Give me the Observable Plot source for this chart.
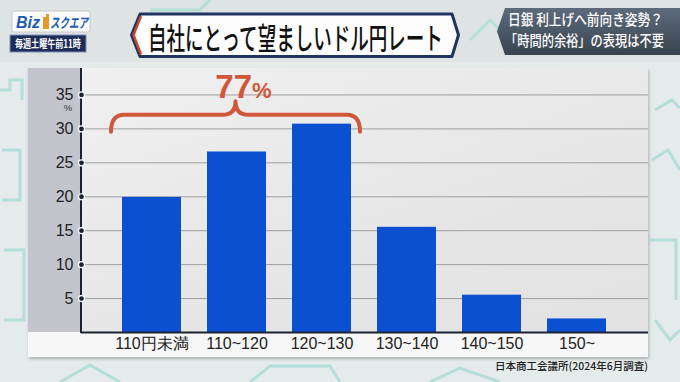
<!DOCTYPE html>
<html><head><meta charset="utf-8">
<script src="https://cdn.jsdelivr.net/npm/d3@7"></script>
<script src="https://cdn.jsdelivr.net/npm/@observablehq/plot@0.6"></script>
<style>
html,body{margin:0;padding:0;}
body{width:680px;height:382px;overflow:hidden;position:relative;background:#e2e8e8;font-family:"Liberation Sans",Arial,sans-serif;}
.abs{position:absolute;}
#panel{left:28px;top:68px;width:620px;height:289px;background:#f7f7f7;box-shadow:1px 2px 3px rgba(0,0,0,0.25);}
#graycol{left:28px;top:68px;width:53px;height:264px;background:#c3c4cc;}
#plotbg{left:81px;top:68px;width:567px;height:264px;background:linear-gradient(160deg,#f0f0f0 0%,#e6e6e6 60%,#e2e2e2 100%);}
#chart{left:28px;top:68px;}
#source{right:32px;top:358px;font-family:"Noto Sans CJK JP",sans-serif;font-weight:500;font-size:10.5px;color:#222;white-space:nowrap;}
</style></head>
<body>
<svg class="abs" style="left:0;top:0" width="680" height="382" id="bg">
  <rect width="680" height="382" fill="#e5ebeb"/>
  <rect width="680" height="62" fill="#dee3e3"/>
  <g fill="none" stroke="#a9dcd4" stroke-width="3" opacity="0.8">
    <path d="M0,90 L10,90 L10,80 L22,80 L22,100"/>
    <path d="M2,150 L20,150 L20,200 L2,200"/>
    <path d="M4,250 L24,250 L24,320 L4,320"/>
    <path d="M655,110 L672,100 L680,108"/>
    <path d="M652,160 L668,150 L680,170"/>
    <path d="M650,240 L676,240 L676,300"/>
    <path d="M655,320 L670,340 L680,330"/>
    <path d="M60,382 L90,365 L120,382"/>
    <path d="M250,382 L270,366 L330,366 L340,382"/>
    <path d="M430,382 L460,368 L500,382"/>
    <path d="M150,10 L200,10 L210,0"/>
    <path d="M470,40 L490,20 L500,30"/>
  </g>
</svg>
<svg class="abs" style="left:0;top:0" width="680" height="62" id="header">
  <defs>
    <linearGradient id="rg" x1="0" y1="0" x2="0" y2="1">
      <stop offset="0" stop-color="#5e6b7b"/>
      <stop offset="1" stop-color="#38444f"/>
    </linearGradient>
  </defs>
  <rect x="12" y="11" width="78" height="21" rx="2" fill="#fbfbfb" stroke="#c9c9c9"/>
  <text x="16" y="28" font-family="Liberation Sans" font-weight="bold" font-style="italic" font-size="16" fill="#1f5bb5">Biz</text>
  <rect x="43" y="17" width="3" height="12" fill="#e39a2d"/>
  <rect x="46" y="14" width="3" height="15" fill="#e39a2d"/>
  <text class="fit" data-x="50" data-y="28" data-w="38" font-family="Noto Sans CJK JP" font-weight="bold" font-style="italic" font-size="14" fill="#1f5bb5">スクエア</text>
  <rect x="10" y="35" width="76" height="17" fill="#1e2c58" stroke="#8090b8" stroke-width="1"/>
  <text class="fit" data-x="15" data-y="47.5" data-w="66" font-family="Noto Sans CJK JP" font-weight="bold" font-size="11" fill="#fff">毎週土曜午前11時</text>

  <polygon points="131.5,35 140,14 452,14 458.5,35 452,56.5 140,56.5" fill="#fdfdfd" stroke="#1f3560" stroke-width="3" stroke-linejoin="round"/>
  <polyline points="141,16 133.5,35 141,54.5" fill="none" stroke="#c9472b" stroke-width="2.5"/>
  <text class="fit" data-x="148" data-y="48.5" data-w="295" font-family="Noto Sans CJK JP" font-weight="500" font-size="30" fill="#111">自社にとって望ましいドル円レート</text>

  <polygon points="497,31.5 505,8 680,8 680,55 505,55" fill="url(#rg)"/>
  <text class="fit" data-x="508" data-y="25" data-w="155" font-family="Noto Sans CJK JP" font-weight="500" font-size="14.5" fill="#fff">日銀 利上げへ前向き姿勢？</text>
  <text class="fit" data-x="505" data-y="45.5" data-w="159" font-family="Noto Sans CJK JP" font-weight="500" font-size="14.5" fill="#fff">「時間的余裕」の表現は不要</text>
</svg>
<div id="panel" class="abs"></div>
<div id="graycol" class="abs"></div>
<div id="plotbg" class="abs"></div>
<div id="chart" class="abs"></div>
<div id="source" class="abs">日本商工会議所(2024年6月調査)</div>
<script>
// Data (share of companies, %)
const categories = ["110円未満", "110~120", "120~130", "130~140", "140~150", "150~"];
const shares = [19.9, 26.6, 30.7, 15.5, 5.5, 2.0];
const yTicks = [5, 10, 15, 20, 25, 30, 35];
const bracedCategories = ["110円未満", "110~120", "120~130"];
const yUnit = "%";

// condense header texts to their measured widths
document.querySelectorAll("text.fit").forEach(t => {
  const w = +t.getAttribute("data-w");
  const natural = t.getComputedTextLength();
  const s = natural > 0 ? w / natural : 1;
  t.setAttribute("transform", `translate(${t.getAttribute("data-x")},${t.getAttribute("data-y")}) scale(${s},1)`);
});

const data = categories.map((c, i) => ({category: c, share: shares[i]}));
const bracedTotal = Math.round(d3.sum(data.filter(d => bracedCategories.includes(d.category)), d => d.share));

const braceColor = "#d0573a";
const ns = "http://www.w3.org/2000/svg";

function annotations(index, scales, values, dims) {
  const g = document.createElementNS(ns, "g");
  const x = scales.x, y = scales.y;
  const bw = x.bandwidth ? x.bandwidth() : 60;
  // left axis line
  const ax = document.createElementNS(ns, "line");
  ax.setAttribute("x1", dims.marginLeft); ax.setAttribute("x2", dims.marginLeft);
  ax.setAttribute("y1", 0); ax.setAttribute("y2", dims.height - dims.marginBottom + 1);
  ax.setAttribute("stroke", "#1b2233"); ax.setAttribute("stroke-width", 2);
  g.appendChild(ax);
  // unit label under top tick
  const top = d3.max(yTicks);
  const u = document.createElementNS(ns, "text");
  u.setAttribute("x", dims.marginLeft - 13); u.setAttribute("y", y(top) + 17);
  u.setAttribute("text-anchor", "middle"); u.setAttribute("font-size", 9.5);
  u.setAttribute("fill", "#333"); u.textContent = yUnit;
  g.appendChild(u);
  // brace
  const x0 = x(bracedCategories[0]) - 11;
  const x1 = x(bracedCategories[bracedCategories.length - 1]) + bw + 9;
  const xm = (x0 + x1) / 2;
  const yH = y(32.0), yE = y(29.5), yC = y(34.0);
  const r = 13;
  const p = document.createElementNS(ns, "path");
  p.setAttribute("d",
    `M${x0},${yE} Q${x0},${yH} ${x0 + r},${yH} L${xm - r},${yH} Q${xm},${yH} ${xm},${yC} ` +
    `Q${xm},${yH} ${xm + r},${yH} L${x1 - r},${yH} Q${x1},${yH} ${x1},${yE}`);
  p.setAttribute("fill", "none"); p.setAttribute("stroke", braceColor);
  p.setAttribute("stroke-width", 4); p.setAttribute("stroke-linecap", "round"); p.setAttribute("stroke-linejoin", "round");
  g.appendChild(p);
  // total label
  const t = document.createElementNS(ns, "text");
  t.setAttribute("x", xm + 8); t.setAttribute("y", yC - 3);
  t.setAttribute("text-anchor", "middle"); t.setAttribute("fill", braceColor);
  t.setAttribute("font-family", "Liberation Sans, Arial, sans-serif"); t.setAttribute("font-weight", "bold");
  const t1 = document.createElementNS(ns, "tspan"); t1.setAttribute("font-size", 33); t1.textContent = String(bracedTotal);
  const t2 = document.createElementNS(ns, "tspan"); t2.setAttribute("font-size", 22); t2.textContent = "%";
  t.appendChild(t1); t.appendChild(t2);
  g.appendChild(t);
  return g;
}

const chart = Plot.plot({
  width: 620,
  height: 289,
  marginLeft: 53,
  marginRight: 0,
  marginTop: 0,
  marginBottom: 25,
  style: {background: "transparent", fontFamily: "Liberation Sans, Arial, sans-serif", overflow: "visible"},
  x: {domain: categories, paddingInner: 0.3, paddingOuter: 0.47, label: null},
  y: {domain: [0, 38.9], label: null},
  marks: [
    Plot.gridY(yTicks, {stroke: "#9e9e9e", strokeOpacity: 1, strokeWidth: 1}),
    Plot.barY(data, {x: "category", y: "share", fill: "#0c50d2"}),
    Plot.ruleY([0], {stroke: "#1b2233", strokeWidth: 2}),
    Plot.axisX({tickSize: 0, tickPadding: 5, fontSize: 16, color: "#222", label: null}),
    Plot.axisY(yTicks, {tickSize: 0, tickPadding: 8, fontSize: 16, color: "#222", label: null}),
    annotations,
    Plot.dot(yTicks, {y: d => d, frameAnchor: "left", r: 3, fill: "#1b2233", stroke: "#ffffff", strokeWidth: 1.2})
  ]
});
document.getElementById("chart").appendChild(chart);
</script>
</body></html>
